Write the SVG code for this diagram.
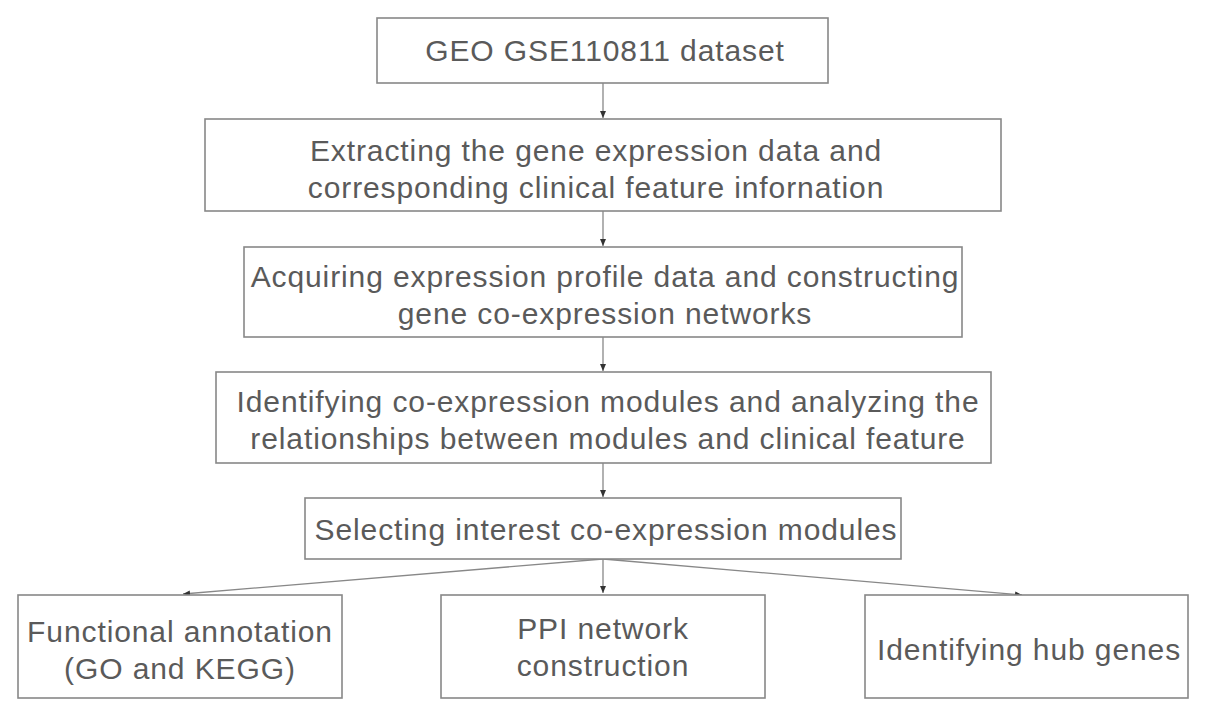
<svg xmlns="http://www.w3.org/2000/svg" width="1205" height="717" viewBox="0 0 1205 717">
<defs>
<marker id="ah" markerWidth="8" markerHeight="8" refX="7" refY="4" orient="auto" markerUnits="userSpaceOnUse">
<path d="M0,1 L7,4 L0,7 Z" fill="#333"/>
</marker>
<style>
.box{fill:#fff;stroke:#888;stroke-width:1.6}
.t{font-family:"Liberation Sans",Arial,sans-serif;font-size:30px;fill:#5a5a5a;text-anchor:middle;letter-spacing:0.9px}
.c{stroke:#888;stroke-width:1.3;fill:none;marker-end:url(#ah)}
</style>
</defs>
<rect width="1205" height="717" fill="#fff"/>
<g id="connectors">
<line class="c" x1="603" y1="83" x2="603" y2="118"/>
<line class="c" x1="603" y1="211" x2="603" y2="246"/>
<line class="c" x1="603" y1="337" x2="603" y2="371"/>
<line class="c" x1="603" y1="463" x2="603" y2="497"/>
<line class="c" x1="603" y1="559" x2="603" y2="593"/>
<line class="c" x1="603" y1="559" x2="183" y2="594"/>
<line class="c" x1="603" y1="559" x2="1022" y2="595"/>
</g>
<g id="n1"><rect class="box" x="377" y="18" width="451" height="65"/><text class="t" x="605" y="61">GEO GSE110811 dataset</text></g>
<g id="n2"><rect class="box" x="205" y="119" width="796" height="92"/><text class="t" x="596" y="161">Extracting the gene expression data and</text><text class="t" x="596" y="198">corresponding clinical feature infornation</text></g>
<g id="n3"><rect class="box" x="244" y="247" width="718" height="90"/><text class="t" x="605" y="287">Acquiring expression profile data and constructing</text><text class="t" x="605" y="324">gene co-expression networks</text></g>
<g id="n4"><rect class="box" x="216" y="372" width="775" height="91"/><text class="t" x="608" y="412">Identifying co-expression modules and analyzing the</text><text class="t" x="608" y="449">relationships between modules and clinical feature</text></g>
<g id="n5"><rect class="box" x="305" y="498" width="596" height="61"/><text class="t" x="606" y="540">Selecting interest co-expression modules</text></g>
<g id="n6"><rect class="box" x="18" y="595" width="324" height="103"/><text class="t" x="180" y="642">Functional annotation</text><text class="t" x="180" y="679">(GO and KEGG)</text></g>
<g id="n7"><rect class="box" x="441" y="595" width="324" height="103"/><text class="t" x="603" y="639">PPI network</text><text class="t" x="603" y="676">construction</text></g>
<g id="n8"><rect class="box" x="865" y="595" width="323" height="103"/><text class="t" x="1029" y="660">Identifying hub genes</text></g>
</svg>
